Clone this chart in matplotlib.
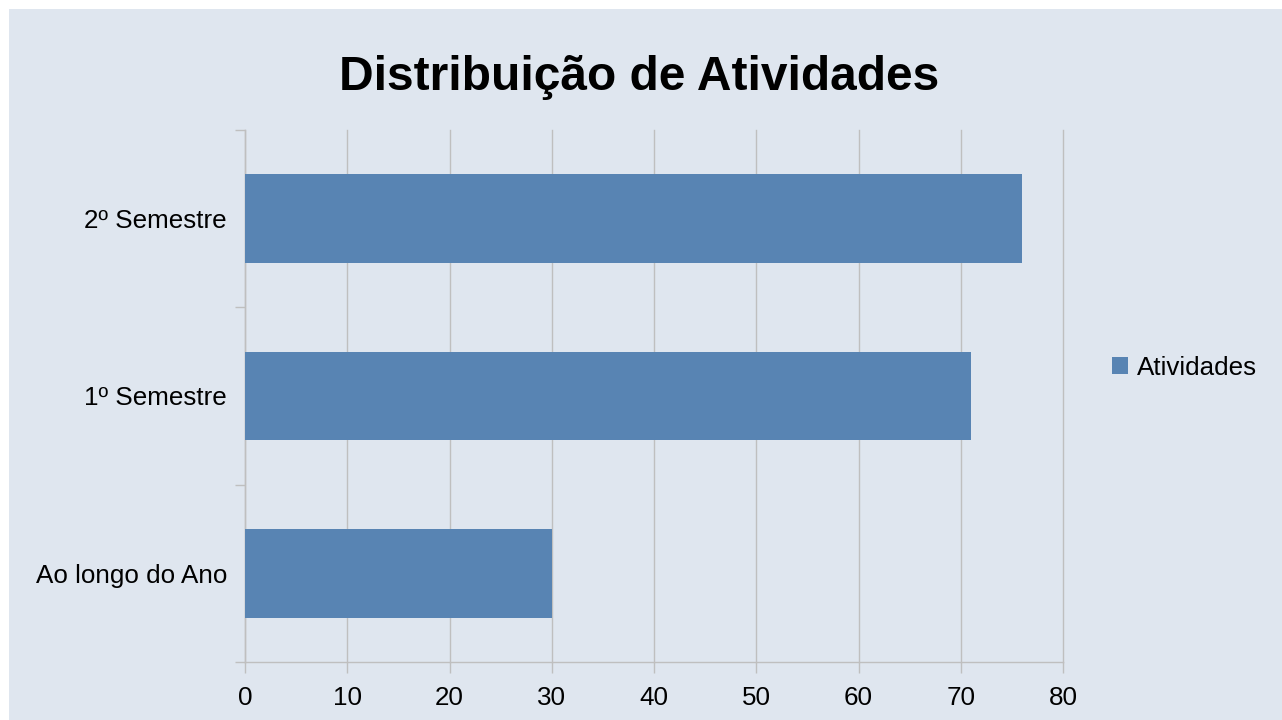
import matplotlib
matplotlib.use("Agg")
import matplotlib.pyplot as plt
from matplotlib.patches import Rectangle
from matplotlib.ticker import FixedLocator, MultipleLocator

categories = ["Ao longo do Ano", "1º Semestre", "2º Semestre"]
values = [30, 71, 76]
series_name = "Atividades"
title = "Distribuição de Atividades"

plt.rcParams['font.family'] = ['Liberation Sans', 'DejaVu Sans']

W, H = 1282, 720
dpi = 100
fig = plt.figure(figsize=(W / dpi, H / dpi), dpi=dpi, facecolor="white")
bg = "#dfe6ef"
fig.patches.append(Rectangle((9 / W, 0), 1 - 9 / W, 1 - 9 / H, transform=fig.transFigure,
                             facecolor=bg, edgecolor="none", zorder=-10))

ax = fig.add_axes([245 / W, 1 - 662 / H, (1063 - 245) / W, (662 - 130) / H])
ax.set_facecolor(bg)
ax.patch.set_alpha(0)

y = list(range(len(categories)))
bars = ax.barh(y, values, height=0.5, color="#5884b3", label=series_name, zorder=3)

ax.set_xlim(0, 80)
ax.set_ylim(-0.5, len(categories) - 0.5)
ax.xaxis.set_major_locator(MultipleLocator(10))
ax.set_yticks(y)
ax.set_yticklabels(categories)
ax.yaxis.set_minor_locator(FixedLocator([i - 0.5 for i in range(len(categories) + 1)]))

grid_c = "#bfbfbf"
ax.grid(axis="x", color=grid_c, linewidth=1.0, zorder=0)
for gl in ax.get_xgridlines():
    gl.set_clip_on(False)
ax.set_axisbelow(True)
for s in ["top", "right"]:
    ax.spines[s].set_visible(False)
for s in ["left", "bottom"]:
    ax.spines[s].set_color(grid_c)
    ax.spines[s].set_linewidth(1.0)

fs = 18.7
ax.tick_params(axis="x", which="major", length=8, width=1.0, color=grid_c, labelsize=fs, pad=9, labelcolor="black")
ax.tick_params(axis="y", which="major", length=0, labelsize=fs, pad=13, labelcolor="black")
ax.tick_params(axis="y", which="minor", length=7.5, width=1.0, color=grid_c)

fig.text(639 / W, 1 - 77 / H, title, ha="center", va="center", fontsize=34.5, fontweight="bold", color="black")

leg = fig.legend(handles=[bars], labels=[series_name], loc="center left",
                 bbox_to_anchor=(1112 / W, 1 - 368 / H), frameon=False, fontsize=fs,
                 handlelength=0.62, handleheight=0.62, handletextpad=0.35, borderaxespad=0, borderpad=0)

fig.savefig("out.png", dpi=dpi, facecolor="white")
